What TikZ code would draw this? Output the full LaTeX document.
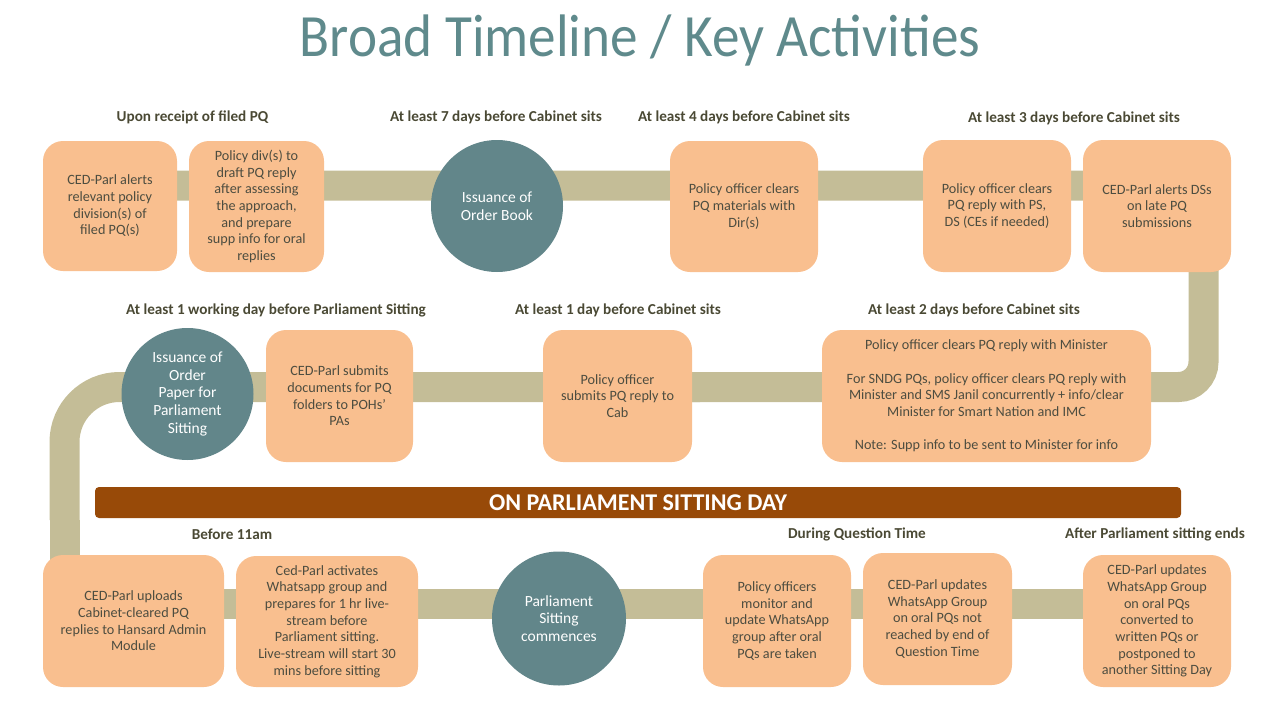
\documentclass[tikz,border=0pt]{standalone}
\usepackage{fontspec}
\setmainfont{Carlito}
\newfontfamily\titlefont[FakeStretch=0.92]{Carlito}
\definecolor{trackc}{HTML}{C4BD97}
\definecolor{boxc}{HTML}{F9BF8F}
\definecolor{circc}{HTML}{62868A}
\definecolor{titlec}{HTML}{5F8A8C}
\definecolor{bannerc}{HTML}{984A08}
\definecolor{boxtext}{HTML}{4D4D40}
\definecolor{headtext}{HTML}{4A4934}
\begin{document}
\begin{tikzpicture}[x=1pt,y=-1pt,
  track/.style={draw=trackc, line width=30pt},
  stepbox/.style={rectangle, rounded corners=20pt, fill=boxc, text=boxtext,
    align=center, inner sep=0pt, font=\fontsize{14.2}{16.7}\selectfont},
  milestone/.style={circle, fill=circc, text=white, align=center, inner sep=0pt,
    minimum size=132pt, font=\fontsize{15.5}{17.6}\selectfont},
  header/.style={text=headtext, font=\fontsize{15.2}{17}\selectfont\bfseries, inner sep=0pt},
]
\useasboundingbox (0,0) rectangle (1280,720);

% title
\node[text=titlec, font=\titlefont\fontsize{60}{66}\selectfont] (title) at (640,41) {Broad Timeline / Key Activities};

% track bends
\coordinate (t0) at (110,185.5);
\coordinate (t1) at (1203.5,185.5);
\coordinate (t2) at (1203.5,387);
\coordinate (t2m) at (600,387);
\coordinate (t3m) at (700,387);
\coordinate (t3) at (64.5,387);
\coordinate (t4) at (64.5,520);
\coordinate (t5) at (64.5,603.5);
\coordinate (t6) at (1150,603.5);

\draw[track, rounded corners=25pt] (t0) -- (t1) -- (t2) -- (t2m);
\draw[track, rounded corners=55pt] (t3m) -- (t3) -- (t4);
\draw[track] (t4) -- (t5) -- (t6);

% banner
\node[rectangle, rounded corners=4pt, fill=bannerc, minimum width=1086pt, minimum height=31pt,
  inner sep=0pt, text=white, font=\fontsize{24}{26}\selectfont\bfseries] (banner) at (638,502.5)
  {ON PARLIAMENT SITTING DAY};

% headers
\node[header] (h1) at (192.5,117) {Upon receipt of filed PQ};
\node[header] (h2) at (496,117) {At least 7 days before Cabinet sits};
\node[header] (h3) at (744,117) {At least 4 days before Cabinet sits};
\node[header] (h4) at (1074,118) {At least 3 days before Cabinet sits};
\node[header] (h5) at (276,310) {At least 1 working day before Parliament Sitting};
\node[header] (h6) at (618,310) {At least 1 day before Cabinet sits};
\node[header] (h7) at (974,310) {At least 2 days before Cabinet sits};
\node[header] (h8) at (232,534) {Before 11am};
\node[header] (h9) at (857,534) {During Question Time};
\node[header] (h10) at (1155,534) {After Parliament sitting ends};

% row 1
\node[stepbox, minimum width=134pt, minimum height=130pt] (b1) at (110,206)
  {CED-Parl alerts\\relevant policy\\division(s) of\\filed PQ(s)};
\node[stepbox, minimum width=135pt, minimum height=131pt] (b2) at (256.5,206.5)
  {Policy div(s) to\\draft PQ reply\\after assessing\\the approach,\\and prepare\\supp info for oral\\replies};
\node[milestone] (c1) at (497,206) {Issuance of\\Order Book};
\node[stepbox, minimum width=148pt, minimum height=131pt] (b3) at (744,206.5)
  {Policy officer clears\\PQ materials with\\Dir(s)};
\node[stepbox, minimum width=148pt, minimum height=132pt] (b4) at (997,206)
  {Policy officer clears\\PQ reply with PS,\\DS (CEs if needed)};
\node[stepbox, minimum width=148pt, minimum height=132pt] (b5) at (1157,206)
  {CED-Parl alerts DSs\\on late PQ\\submissions};

% row 2
\node[milestone] (c2) at (187.5,394) {Issuance of\\Order\\Paper for\\Parliament\\Sitting};
\node[stepbox, minimum width=147pt, minimum height=132pt] (b6) at (339.5,396)
  {CED-Parl submits\\documents for PQ\\folders to POHs’\\PAs};
\node[stepbox, minimum width=149pt, minimum height=132pt] (b7) at (617.5,396)
  {Policy officer\\submits PQ reply to\\Cab};
\node[stepbox, minimum width=329pt, minimum height=132pt] (b8) at (986.5,396)
  {Policy officer clears PQ reply with Minister\\[16.7pt]
   For SNDG PQs, policy officer clears PQ reply with\\
   Minister and SMS Janil concurrently + info/clear\\
   Minister for Smart Nation and IMC\\[16.7pt]
   Note: Supp info to be sent to Minister for info};

% row 3
\node[stepbox, minimum width=181pt, minimum height=132pt] (b9) at (133.5,621)
  {CED-Parl uploads\\Cabinet-cleared PQ\\replies to Hansard Admin\\Module};
\node[stepbox, minimum width=182pt, minimum height=131pt] (b10) at (327,621.5)
  {Ced-Parl activates\\Whatsapp group and\\prepares for 1 hr live-\\stream before\\Parliament sitting.\\Live-stream will start 30\\mins before sitting};
\node[milestone, minimum size=134pt] (c3) at (559,618.5) {Parliament\\Sitting\\commences};
\node[stepbox, minimum width=148pt, minimum height=132pt] (b11) at (777,621)
  {Policy officers\\monitor and\\update WhatsApp\\group after oral\\PQs are taken};
\node[stepbox, minimum width=149pt, minimum height=132pt] (b12) at (937.5,619)
  {CED-Parl updates\\WhatsApp Group\\on oral PQs not\\reached by end of\\Question Time};
\node[stepbox, minimum width=148pt, minimum height=132pt] (b13) at (1157,621)
  {CED-Parl updates\\WhatsApp Group\\on oral PQs\\converted to\\written PQs or\\postponed to\\another Sitting Day};
\end{tikzpicture}
\end{document}
